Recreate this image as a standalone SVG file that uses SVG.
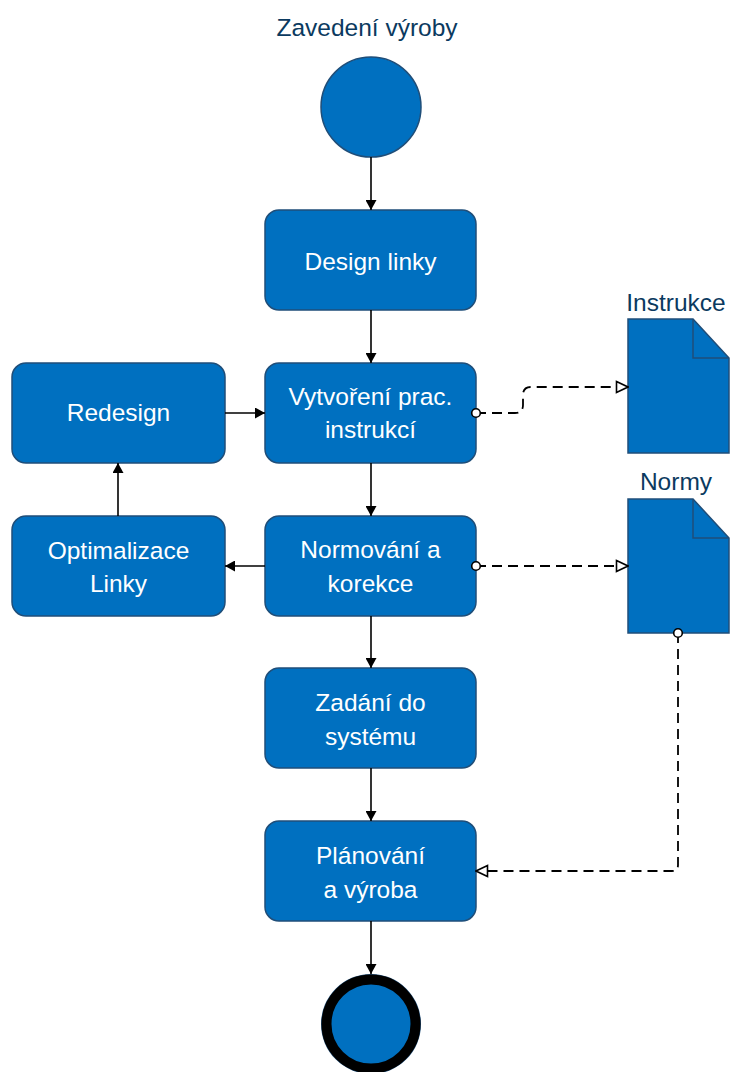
<svg xmlns="http://www.w3.org/2000/svg" width="730" height="1072" viewBox="0 0 730 1072">
<defs>
<style>
.box{fill:#0070C0;stroke:#1F4E79;stroke-width:1.5}
.lbl{font-family:"Liberation Sans",Arial,sans-serif;font-size:24.5px;fill:#ffffff;text-anchor:middle}
.ttl{font-family:"Liberation Sans",Arial,sans-serif;font-size:24.5px;fill:#0B3A60;text-anchor:middle}
.solid{fill:none;stroke:#000;stroke-width:1.6}
.dash{fill:none;stroke:#000;stroke-width:1.8;stroke-dasharray:10 6}
</style>
<marker id="arr" viewBox="0 0 10 11" refX="10" refY="5.5" markerWidth="10" markerHeight="11" markerUnits="userSpaceOnUse" orient="auto">
<path d="M0,0 L10,5.5 L0,11 Z" fill="#000"/>
</marker>
<marker id="open" viewBox="0 0 14 14" refX="13" refY="7" markerWidth="14" markerHeight="14" markerUnits="userSpaceOnUse" orient="auto">
<path d="M1.5,1.5 L13,7 L1.5,12.5 Z" fill="#fff" stroke="#000" stroke-width="1.6"/>
</marker>
<marker id="dot" viewBox="0 0 12 12" refX="6" refY="6" markerWidth="12" markerHeight="12" markerUnits="userSpaceOnUse" orient="auto">
<circle cx="6" cy="6" r="4.3" fill="#fff" stroke="#000" stroke-width="1.6"/>
</marker>
</defs>
<rect width="730" height="1072" fill="#ffffff"/>
<g id="title">
<text class="ttl" x="367" y="36">Zavedení výroby</text>
</g>
<g id="start">
<circle cx="371" cy="107" r="50" fill="#0070C0" stroke="#1F4E79" stroke-width="1.5"/>
</g>
<g id="design">
<rect class="box" x="265" y="210" width="211" height="100" rx="14"/>
<text class="lbl" x="370.5" y="270">Design linky</text>
</g>
<g id="vytvoreni">
<rect class="box" x="265" y="363" width="211" height="100" rx="14"/>
<text class="lbl" x="370.5" y="405">Vytvoření prac.</text>
<text class="lbl" x="370.5" y="438">instrukcí</text>
</g>
<g id="normovani">
<rect class="box" x="265" y="516" width="211" height="100" rx="14"/>
<text class="lbl" x="370.5" y="558">Normování a</text>
<text class="lbl" x="370.5" y="592">korekce</text>
</g>
<g id="zadani">
<rect class="box" x="265" y="668" width="211" height="100" rx="14"/>
<text class="lbl" x="370.5" y="711">Zadání do</text>
<text class="lbl" x="370.5" y="745">systému</text>
</g>
<g id="planovani">
<rect class="box" x="265" y="821" width="211" height="100" rx="14"/>
<text class="lbl" x="370.5" y="864">Plánování</text>
<text class="lbl" x="370.5" y="898">a výroba</text>
</g>
<g id="redesign">
<rect class="box" x="12" y="363" width="213" height="100" rx="14"/>
<text class="lbl" x="118.5" y="421">Redesign</text>
</g>
<g id="optimalizace">
<rect class="box" x="12" y="516" width="213" height="100" rx="14"/>
<text class="lbl" x="118.5" y="559">Optimalizace</text>
<text class="lbl" x="118.5" y="592">Linky</text>
</g>
<g id="instrukce">
<text class="ttl" x="676" y="311">Instrukce</text>
<path class="box" d="M628,319 H693 L729,358 V453 H628 Z"/>
<path d="M693,319 V358 H729" fill="none" stroke="#1F4E79" stroke-width="1.5"/>
</g>
<g id="normy">
<text class="ttl" x="676" y="490">Normy</text>
<path class="box" d="M628,499 H693 L729,538 V633 H628 Z"/>
<path d="M693,499 V538 H729" fill="none" stroke="#1F4E79" stroke-width="1.5"/>
</g>
<g id="end">
<circle cx="371" cy="1024" r="50" fill="#1F4E79"/>
<circle cx="371" cy="1024" r="44.5" fill="#0070C0" stroke="#000" stroke-width="10"/>
</g>
<g id="connectors">
<path class="solid" d="M371,157 V210" marker-end="url(#arr)"/>
<path class="solid" d="M371,310 V363" marker-end="url(#arr)"/>
<path class="solid" d="M371,463 V516" marker-end="url(#arr)"/>
<path class="solid" d="M371,616 V668" marker-end="url(#arr)"/>
<path class="solid" d="M371,768 V821" marker-end="url(#arr)"/>
<path class="solid" d="M371,921 V974" marker-end="url(#arr)"/>
<path class="solid" d="M225,413 H265" marker-end="url(#arr)"/>
<path class="solid" d="M265,566 H225" marker-end="url(#arr)"/>
<path class="solid" d="M118,516 V463" marker-end="url(#arr)"/>
<path class="dash" d="M476,413 H515 Q523,413 523,405 V395 Q523,387 531,387 H628" marker-start="url(#dot)" marker-end="url(#open)"/>
<path class="dash" d="M476,566 H628" marker-start="url(#dot)" marker-end="url(#open)"/>
<path class="dash" d="M678,633 V865 Q678,871 672,871 H476" marker-start="url(#dot)" marker-end="url(#open)"/>
</g>
</svg>
